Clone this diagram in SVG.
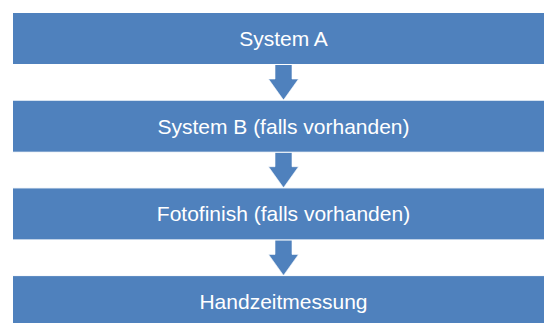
<svg xmlns="http://www.w3.org/2000/svg" width="544" height="323" viewBox="0 0 544 323">
<style>
.box{fill:#4F81BD;stroke:#ffffff;stroke-width:1}
.arr{fill:#4F81BD;stroke:#ffffff;stroke-width:0.6}
.lbl{font-family:"Liberation Sans",Arial,sans-serif;font-size:21px;fill:#ffffff;text-anchor:middle}
</style>
<rect width="544" height="323" fill="#ffffff"/>
<g id="connectors">
<path class="arr" d="M275,64.5 L292,64.5 L292,79 L298.5,79 L283.5,100 L268.5,79 L275,79 Z"/>
<path class="arr" d="M275,152.2 L292,152.2 L292,166.7 L298.5,166.7 L283.5,187.7 L268.5,166.7 L275,166.7 Z"/>
<path class="arr" d="M275,239.9 L292,239.9 L292,254.4 L298.5,254.4 L283.5,275.4 L268.5,254.4 L275,254.4 Z"/>
</g>
<g id="node-system-a">
<rect class="box" x="12.5" y="12.5" width="545" height="52"/>
<text class="lbl" x="283.5" y="46.3">System A</text>
</g>
<g id="node-system-b">
<rect class="box" x="12.5" y="100.2" width="545" height="52"/>
<text class="lbl" x="283.5" y="133.5">System B (falls vorhanden)</text>
</g>
<g id="node-fotofinish">
<rect class="box" x="12.5" y="187.9" width="545" height="52"/>
<text class="lbl" x="283.5" y="221.3">Fotofinish (falls vorhanden)</text>
</g>
<g id="node-handzeit">
<rect class="box" x="12.5" y="275.6" width="545" height="52"/>
<text class="lbl" x="283.5" y="309">Handzeitmessung</text>
</g>
</svg>
